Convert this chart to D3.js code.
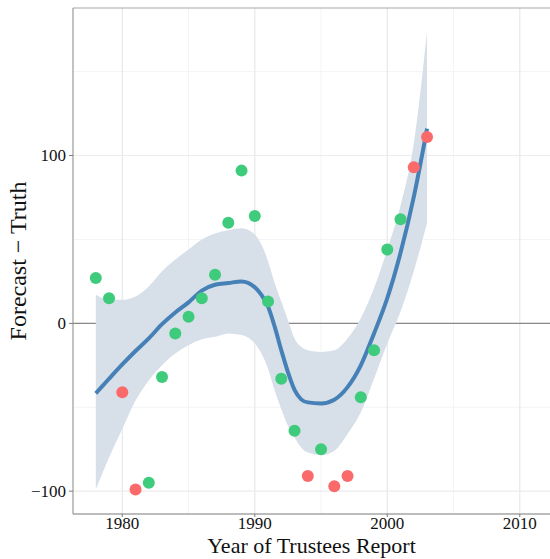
<!DOCTYPE html>
<html>
<head>
<meta charset="utf-8">
<script src="https://cdn.jsdelivr.net/npm/d3@7"></script>
<style>
  html, body { margin: 0; padding: 0; background: #fff; }
  svg { display: block; }
  text { font-family: "Liberation Serif", "Times New Roman", serif; fill: #111; }
</style>
</head>
<body>
<svg id="chart" width="550" height="559"></svg>
<script>
// ---- data ----
const years = [1978,1979,1980,1981,1982,1983,1984,1985,1986,1987,1988,1989,1990,
               1991,1992,1993,1994,1995,1996,1997,1998,1999,2000,2001,2002,2003];
const errors = [27,15,-41,-99,-95,-32,-6,4,15,29,60,91,64,
                13,-33,-64,-91,-75,-97,-91,-44,-16,44,62,93,111];
const groups = ["ok","ok","miss","miss","ok","ok","ok","ok","ok","ok","ok","ok","ok",
                "ok","ok","ok","miss","ok","miss","miss","ok","ok","ok","ok","miss","miss"];

// smoothed fit and confidence band
const smoothYears = [1978,1979,1980,1981,1982,1983,1984,1985,1986,1987,1988,1989,1990,
                     1990.5,1991,1991.5,1992,1992.5,1993,1993.5,1994,1995,1996,1997,1998,
                     1999,2000,2001,2002,2003];
const smoothFit   = [-41.7,-33,-24.5,-16.5,-9,-0.5,6.5,12.5,19.5,23,24,25,21.5,
                     17,10,-2,-16,-29,-39.7,-45.3,-47.1,-47.7,-45.5,-38,-25,
                     -6,15,42,75.4,116];
const smoothLow   = [-99,-80,-63,-46,-34,-25,-18,-13,-9.5,-8,-6,-7,-12,
                     -18,-27,-40,-51,-61,-68,-74,-77,-78.5,-76,-66,-53,
                     -33,-12,7,31,60];
const smoothHigh  = [17,14,14,16,22,31,38,44,50,53.6,55.5,56.6,53,
                     47,37,24,13,2,-9,-14,-16,-17,-16,-9,3,
                     21,44,70,107,174];

const xTicks = [1980,1990,2000,2010];
const xMinor = [1985,1995,2005];
const yTicks = [-100,0,100];
const yMinor = [-50,50,150];
const colors = { ok: "#3ecb7b", miss: "#fb6a6a" };

// ---- layout ----
const svg = d3.select("#chart");
const mL = 73, mR = 550, mT = 8, mB = 514;
const x = d3.scaleLinear().domain([1976.28, 2012.28]).range([mL, mR]);
const y = d3.scaleLinear().domain([-113.6, 187.9]).range([mB, mT]);

// grid
const g = svg.append("g");
g.selectAll(".vminor").data(xMinor).enter().append("line")
  .attr("x1", d => x(d)).attr("x2", d => x(d)).attr("y1", mT).attr("y2", mB)
  .attr("stroke", "#f4f4f6").attr("stroke-width", 1);
g.selectAll(".hminor").data(yMinor).enter().append("line")
  .attr("x1", mL).attr("x2", mR).attr("y1", d => y(d)).attr("y2", d => y(d))
  .attr("stroke", "#f4f4f6").attr("stroke-width", 1);
g.selectAll(".vmajor").data(xTicks).enter().append("line")
  .attr("x1", d => x(d)).attr("x2", d => x(d)).attr("y1", mT).attr("y2", mB)
  .attr("stroke", "#e8e8eb").attr("stroke-width", 1.2);
g.selectAll(".hmajor").data(yTicks).enter().append("line")
  .attr("x1", mL).attr("x2", mR).attr("y1", d => y(d)).attr("y2", d => y(d))
  .attr("stroke", "#ececee").attr("stroke-width", 1.2);

// zero line
g.append("line").attr("x1", mL).attr("x2", mR).attr("y1", y(0)).attr("y2", y(0))
  .attr("stroke", "#8a8a8a").attr("stroke-width", 1.1);

// band
const sm = smoothYears.map((d, i) => ({ x: d, f: smoothFit[i], lo: smoothLow[i], hi: smoothHigh[i] }));
g.append("path").datum(sm)
  .attr("d", d3.area().x(d => x(d.x)).y0(d => y(d.lo)).y1(d => y(d.hi)).curve(d3.curveMonotoneX))
  .attr("fill", "#d7dfe8");
// fit line
g.append("path").datum(sm)
  .attr("d", d3.line().x(d => x(d.x)).y(d => y(d.f)).curve(d3.curveMonotoneX))
  .attr("fill", "none").attr("stroke", "#4580b6").attr("stroke-width", 4);

// points
g.selectAll(".pt").data(years.map((d, i) => ({ x: d, y: errors[i], g: groups[i] })))
  .enter().append("circle")
  .attr("cx", d => x(d.x)).attr("cy", d => y(d.y)).attr("r", 6)
  .attr("fill", d => colors[d.g]);

// axes lines
svg.append("line").attr("x1", mL).attr("x2", mR).attr("y1", mT).attr("y2", mT)
  .attr("stroke", "#a8a8a8").attr("stroke-width", 1.2);
svg.append("line").attr("x1", mL).attr("x2", mL).attr("y1", mT).attr("y2", mB)
  .attr("stroke", "#9a9a9a").attr("stroke-width", 1.2);
svg.append("line").attr("x1", mL).attr("x2", mR).attr("y1", mB).attr("y2", mB)
  .attr("stroke", "#7a7a7a").attr("stroke-width", 1.2);

// ticks
svg.selectAll(".xt").data(xTicks).enter().append("line")
  .attr("x1", d => x(d)).attr("x2", d => x(d)).attr("y1", mB).attr("y2", mB + 3)
  .attr("stroke", "#7a7a7a");
svg.selectAll(".yt").data(yTicks).enter().append("line")
  .attr("x1", mL - 4).attr("x2", mL).attr("y1", d => y(d)).attr("y2", d => y(d))
  .attr("stroke", "#7a7a7a");

svg.selectAll(".xl").data(xTicks).enter().append("text")
  .attr("x", d => x(d)).attr("y", 529).attr("text-anchor", "middle")
  .attr("font-size", 17).text(d => d);
svg.selectAll(".yl").data(yTicks).enter().append("text")
  .attr("x", 66).attr("y", d => y(d)).attr("dy", "0.35em").attr("text-anchor", "end")
  .attr("font-size", 17).text(d => d < 0 ? "\u2212" + Math.abs(d) : d);

// titles
svg.append("text").attr("x", (mL + mR) / 2).attr("y", 553).attr("text-anchor", "middle")
  .attr("font-size", 22).text("Year of Trustees Report");
svg.append("text").attr("transform", `translate(26,${(mT + mB) / 2}) rotate(-90)`)
  .attr("text-anchor", "middle").attr("font-size", 24).text("Forecast \u2212 Truth");
</script>
</body>
</html>
